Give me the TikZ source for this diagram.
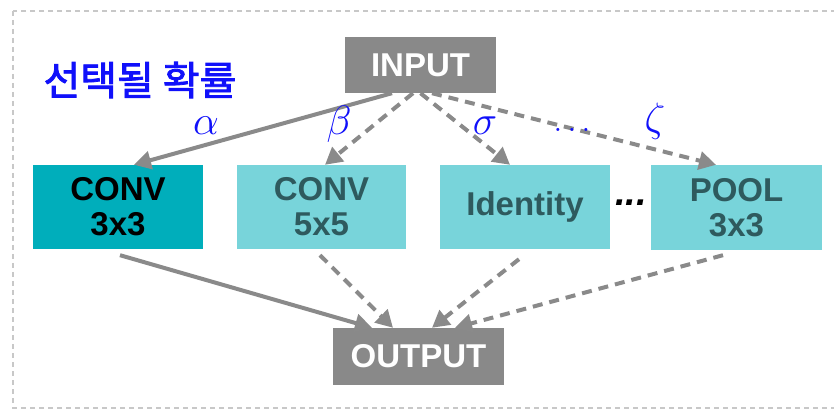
\RequirePackage{fix-cm}
\documentclass[tikz,border=0pt]{standalone}
\usepackage{fontspec}
\usetikzlibrary{arrows.meta}
\newfontfamily\boxfont{Liberation Sans}
\newfontfamily\kofont[FakeBold=2]{Noto Sans CJK KR}
\definecolor{edgegray}{RGB}{138,138,138}
\definecolor{iofill}{RGB}{137,137,137}
\definecolor{darkteal}{RGB}{0,174,187}
\definecolor{lightteal}{RGB}{120,212,218}
\definecolor{mutedtext}{RGB}{46,90,94}
\definecolor{probblue}{RGB}{16,16,250}
\definecolor{framegray}{RGB}{200,200,200}
\begin{document}
\begin{tikzpicture}[x=1pt,y=-1pt,
  opbox/.style={draw=none, inner sep=0pt, align=center, minimum width=170pt, minimum height=84pt,
    font=\boxfont\bfseries\fontsize{33}{35}\selectfont},
  chosen/.style={opbox, fill=darkteal, text=black},
  candidate/.style={opbox, fill=lightteal, text=mutedtext},
  iobox/.style={opbox, fill=iofill, text=white, minimum height=56pt},
  link/.style={line width=4pt, draw=edgegray, -{Triangle[length=17pt,width=18pt]}},
  dlink/.style={link, dash pattern=on 10pt off 7pt},
  greek/.style={text=probblue, inner sep=0pt, font=\fontsize{41}{41}\selectfont},
  frame/.style={draw=framegray, line width=1.5pt, dash pattern=on 5pt off 4pt}]
\useasboundingbox (0,0) rectangle (834,411);
% outer dashed frame (continues past the right edge)
\draw[frame] (13,11) rectangle (860,408);

% title
\node[text=probblue, inner sep=0pt, font=\kofont\fontsize{40}{40}\selectfont] (title) at (140,80) {선택될 확률};

% input / output
\node[iobox, minimum width=151pt] (in) at (420.5,65) {INPUT};
\node[iobox, minimum width=171pt, minimum height=57pt] (out) at (418.5,356.5) {OUTPUT};

% candidate operations
\node[chosen] (c3) at (118,207) {CONV\\3x3};
\node[candidate, minimum width=169pt] (c5) at (321.5,207) {CONV\\5x5};
\node[candidate] (id) at (525,207) {Identity};
\node[candidate, minimum width=171pt, minimum height=85pt] (pool) at (736.5,207.5) {POOL\\3x3};
\node[inner sep=0pt, font=\boxfont\bfseries\itshape\fontsize{38}{38}\selectfont] (more) at (631,203) {...};

% input to operations
\draw[link]  ([xshift=-28.5pt]in.south) -- ([xshift=16pt]c3.north);
\draw[dlink] ([xshift=-7.5pt]in.south)  -- ([xshift=3.5pt]c5.north);
\draw[dlink] (in.south)                 -- ([xshift=-15pt]id.north);
\draw[dlink] ([xshift=11.5pt]in.south)  -- ([xshift=-20.5pt]pool.north);

% operations to output
\draw[link]  ([xshift=2pt,yshift=-6pt]c3.south)      -- ([xshift=-46.5pt]out.north);
\draw[dlink] ([xshift=-1.5pt,yshift=-6pt]c5.south)   -- ([xshift=-25.5pt]out.north);
\draw[dlink] ([xshift=-6pt,yshift=-10pt]id.south)    -- ([xshift=13.5pt]out.north);
\draw[dlink] ([xshift=-13.5pt,yshift=-5pt]pool.south) -- ([xshift=36.5pt]out.north);

% selection probabilities
\node[greek] (pa) at (206,126) {$\alpha$};
\node[greek] (pb) at (339,124) {$\beta$};
\node[greek] (ps) at (485,126) {$\sigma$};
\node[greek, font=\fontsize{32}{32}\selectfont] (pd) at (572,130) {$\ldots$};
\node[greek] (pz) at (655,121) {$\zeta$};
\end{tikzpicture}
\end{document}
